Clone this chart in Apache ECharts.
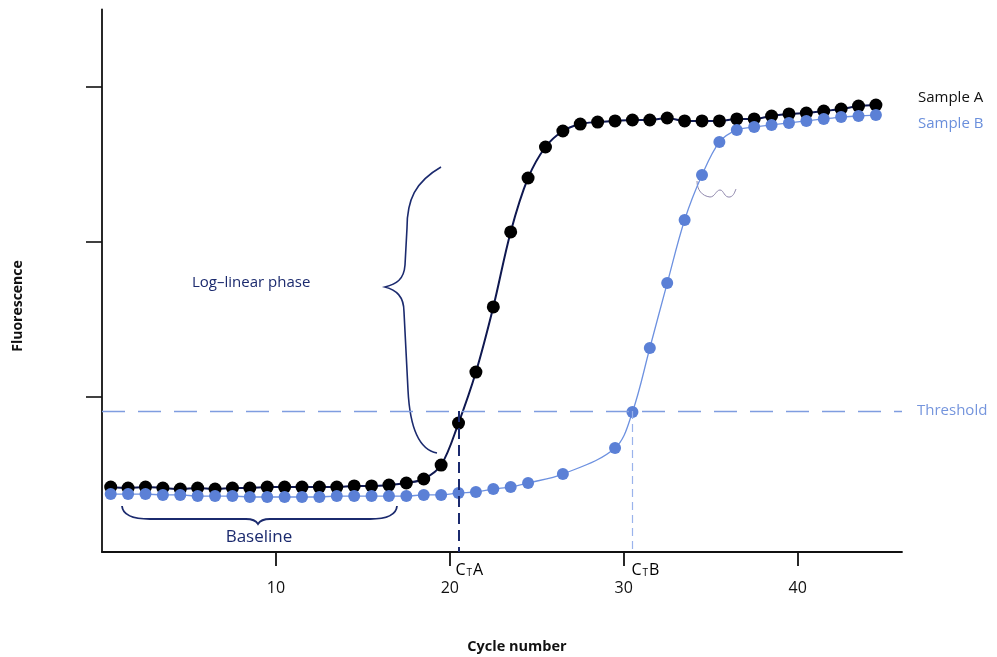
<!DOCTYPE html>
<html><head><meta charset="utf-8">
<script src="https://cdn.jsdelivr.net/npm/echarts@6/dist/echarts.min.js"></script>
<style>html,body{margin:0;padding:0;background:#fff}#c{width:997px;height:657px}</style>
</head><body><div id="c"></div>
<script>
// Cycle positions (points sit half a cycle right of integers)
const cycles = [0.5,1.5,2.5,3.5,4.5,5.5,6.5,7.5,8.5,9.5,10.5,11.5,12.5,13.5,14.5,15.5,16.5,17.5,18.5,19.5,20.5,21.5,22.5,23.5,24.5,25.5,26.5,27.5,28.5,29.5,30.5,31.5,32.5,33.5,34.5,35.5,36.5,37.5,38.5,39.5,40.5,41.5,42.5,43.5,44.5];
const sampleA = [0.419,0.413,0.419,0.413,0.406,0.413,0.406,0.413,0.413,0.419,0.419,0.419,0.419,0.419,0.426,0.426,0.432,0.445,0.471,0.561,0.832,1.161,1.581,2.065,2.413,2.613,2.716,2.761,2.774,2.781,2.787,2.787,2.800,2.781,2.781,2.781,2.794,2.794,2.813,2.826,2.832,2.845,2.858,2.877,2.884];
const sampleB = [0.374,0.374,0.374,0.368,0.368,0.361,0.361,0.361,0.355,0.355,0.355,0.355,0.355,0.361,0.361,0.361,0.361,0.361,0.368,0.368,0.381,0.387,0.406,0.419,0.445,null,0.503,null,null,0.671,0.903,1.316,1.735,2.142,2.432,2.645,2.723,2.742,2.755,2.768,2.781,2.794,2.806,2.813,2.819];
const threshold = 0.91;
const ctA = 20.5;
const ctB = 30.5;
const xTicks = [10, 20, 30, 40];
const yTicks = [1, 2, 3];

const FONT = '"Open Sans", "DejaVu Sans", sans-serif';
const NAVY = '#1b2a6e';
const chart = echarts.init(document.getElementById('c'), null, {renderer: 'canvas'});

const pairs = (ys) => cycles.map((c, i) => [c, ys[i]]);

// annotation braces (pixel-space decorations)
const braces = [
  {d: 'M122,506 Q123,519 150,519 L246,519 Q255,519 258,524 Q261,519 270,519 L370,519 Q396,519 397,506', c: NAVY, w: 1.8},
  {d: 'M441,167 C415,182 407,200 407,228 L405,265 C404,280 396,284 385,287 C396,290 404,296 404,312 L408,390 C410,430 420,450 437,453', c: NAVY, w: 1.6},
  {d: 'M697,181 C697,190 702,196 710,197 C715,197 716,190 720,190 C724,190 724,198 730,197 C734,196 735,191 736,189', c: '#9088ad', w: 1}
];

chart.setOption({
  animation: false,
  backgroundColor: '#ffffff',
  grid: {left: 102, right: 95, top: 9.5, bottom: 105},
  xAxis: {
    type: 'value', min: 0, max: 46,
    axisLine: {show: true, onZero: false, lineStyle: {color: '#111', width: 1.8}},
    axisTick: {show: true, customValues: xTicks, length: 14, inside: false, lineStyle: {color: '#111', width: 1.8}},
    axisLabel: {show: true, customValues: xTicks, margin: 28, color: '#111', fontSize: 16, fontFamily: FONT},
    splitLine: {show: false}
  },
  yAxis: {
    type: 'value', min: 0, max: 3.5,
    axisLine: {show: true, lineStyle: {color: '#111', width: 1.8}},
    axisTick: {show: true, customValues: yTicks, length: 16, inside: false, lineStyle: {color: '#111', width: 1.6}},
    axisLabel: {show: false},
    splitLine: {show: false}
  },
  series: [
    {
      name: 'Sample A', type: 'line', data: pairs(sampleA),
      smooth: 0.35, symbol: 'circle', symbolSize: 13,
      itemStyle: {color: '#000000'},
      lineStyle: {color: '#0f1850', width: 2},
      z: 3,
      markLine: {
        silent: true, symbol: 'none', animation: false,
        label: {show: false},
        lineStyle: {color: NAVY, width: 2, type: [11, 6]},
        data: [[{coord: [ctA, threshold]}, {coord: [ctA, 0]}]]
      }
    },
    {
      name: 'Sample B', type: 'line', data: pairs(sampleB), connectNulls: true,
      smooth: 0.35, symbol: 'circle', symbolSize: 12,
      itemStyle: {color: '#5b80d6'},
      lineStyle: {color: '#6d91e0', width: 1.3},
      z: 4,
      markLine: {
        silent: true, symbol: 'none', animation: false,
        data: [
          [{coord: [0, threshold], lineStyle: {color: '#7f9de0', width: 1.3, type: [23, 13]},
            label: {show: true, position: 'end', formatter: 'Threshold', distance: 15, color: '#7595dd', fontSize: 15, fontFamily: FONT}},
           {coord: [46, threshold]}],
          [{coord: [ctB, threshold], lineStyle: {color: '#9ab3ec', width: 1.2, type: [8, 5]}, label: {show: false}},
           {coord: [ctB, 0]}]
        ]
      }
    },
    {
      name: 'braces', type: 'custom', silent: true, z: 2,
      data: [[0, 0]],
      renderItem: () => ({
        type: 'group',
        children: braces.map(b => ({
          type: 'path', shape: {pathData: b.d},
          style: {fill: 'none', stroke: b.c, lineWidth: b.w}
        }))
      })
    }
  ]
});

const p = (x, y) => chart.convertToPixel({gridIndex: 0}, [x, y]);
const pa = p(ctA, 0), pb = p(ctB, 0);
const ctRich = (col) => ({
  c: {fontSize: 16, color: col, fontFamily: FONT},
  s: {fontSize: 10, color: col, fontFamily: FONT, verticalAlign: 'bottom', padding: [0, 1, 0, 1]}
});

chart.setOption({
  graphic: [
    {type: 'text', x: 18, y: 306, rotation: Math.PI / 2,
      style: {text: 'Fluorescence', fontFamily: FONT, fontWeight: 'bold', fontSize: 14, fill: '#111', align: 'center', verticalAlign: 'middle'}},
    {type: 'text', x: 517, y: 647,
      style: {text: 'Cycle number', fontFamily: FONT, fontWeight: 'bold', fontSize: 14.5, fill: '#111', align: 'center', verticalAlign: 'middle'}},
    {type: 'text', x: pa[0] - 3, y: pa[1] + 18,
      style: {text: '{c|C}{s|T}{c|A}', rich: ctRich('#111'), align: 'left', verticalAlign: 'middle'}},
    {type: 'text', x: pb[0] - 1, y: pb[1] + 18,
      style: {text: '{c|C}{s|T}{c|B}', rich: ctRich('#9cb4ec'), align: 'left', verticalAlign: 'middle'}},
    {type: 'text', x: 918, y: 98,
      style: {text: 'Sample A', fontFamily: FONT, fontSize: 15, fill: '#111', align: 'left', verticalAlign: 'middle'}},
    {type: 'text', x: 918, y: 124,
      style: {text: 'Sample B', fontFamily: FONT, fontSize: 15, fill: '#6a8fdc', align: 'left', verticalAlign: 'middle'}},
    {type: 'text', x: 192, y: 283,
      style: {text: 'Log\u2013linear phase', fontFamily: FONT, fontSize: 15, fill: NAVY, align: 'left', verticalAlign: 'middle'}},
    {type: 'text', x: 259, y: 537,
      style: {text: 'Baseline', fontFamily: FONT, fontSize: 17, fill: NAVY, align: 'center', verticalAlign: 'middle'}}
  ]
});
</script>
</body></html>
